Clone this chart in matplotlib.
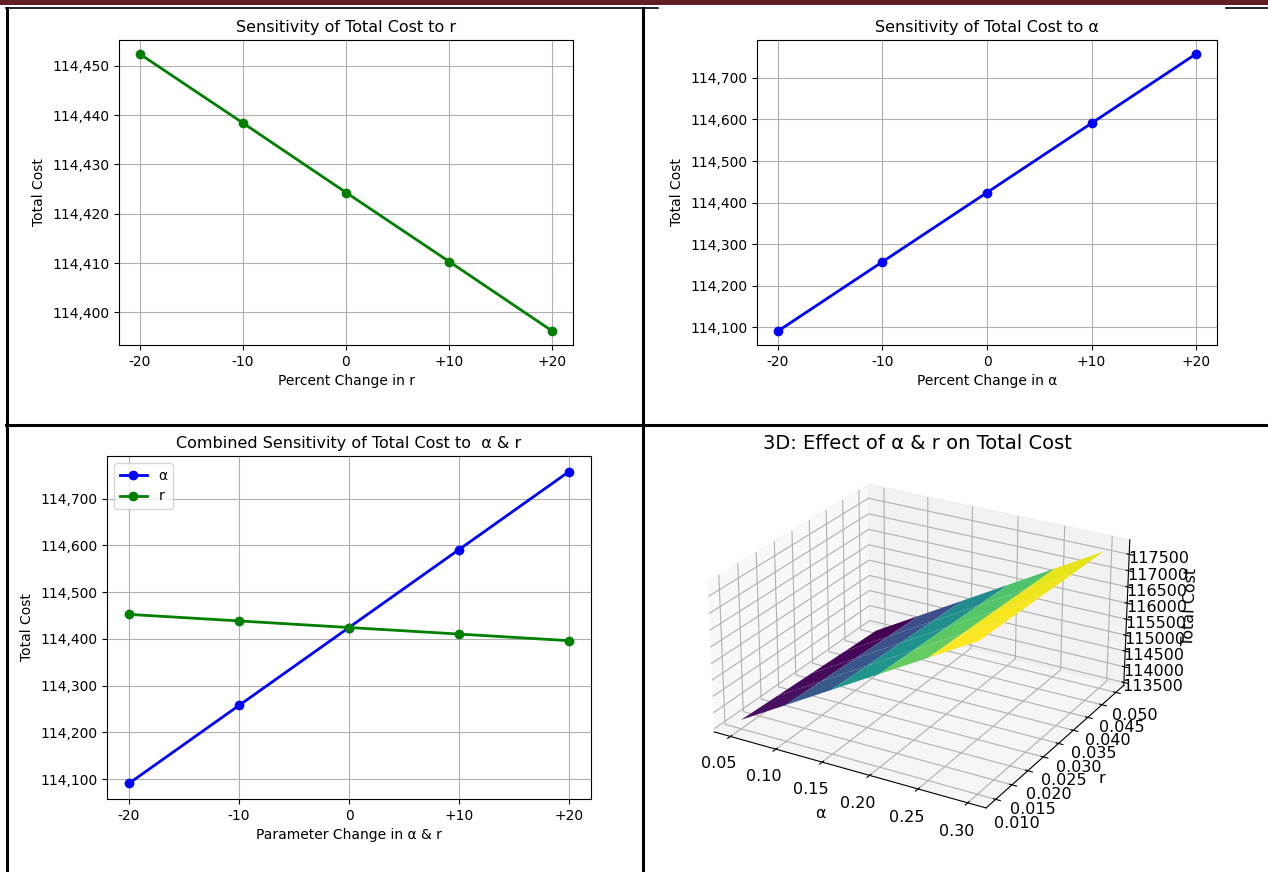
import matplotlib
matplotlib.use("Agg")
import matplotlib.pyplot as plt
import numpy as np
from matplotlib.ticker import FuncFormatter
from matplotlib.lines import Line2D
from matplotlib.patches import Rectangle

# Données
pct = [-20, -10, 0, 10, 20]
pct_labels = ['-20', '-10', '0', '+10', '+20']
cost_r = [114452.4, 114438.4, 114424.3, 114410.3, 114396.2]
cost_alpha = [114091.0, 114257.7, 114424.3, 114591.0, 114757.7]

# Surface 3D : coût total selon alpha (colonnes) et r (lignes)
alpha_grid = [0.05, 0.10, 0.15, 0.20, 0.25, 0.30]
r_grid = [0.01, 0.02, 0.03, 0.04, 0.05]
cost_grid = [
    [113684, 114517, 115350, 116183, 117016, 117849],
    [113638, 114471, 115304, 116137, 116970, 117803],
    [113591, 114424, 115257, 116090, 116923, 117756],
    [113544, 114377, 115210, 116043, 116876, 117709],
    [113498, 114331, 115164, 115997, 116830, 117663],
]
z_ticks = [113500, 114000, 114500, 115000, 115500, 116000, 116500, 117000, 117500]
r_ticks = [0.010, 0.015, 0.020, 0.025, 0.030, 0.035, 0.040, 0.045, 0.050]

W, H = 1268, 872
def rect(l, t, r, b):
    return [l / W, 1 - b / H, (r - l) / W, (b - t) / H]

fmt = FuncFormatter(lambda v, p: f'{v:,.0f}')

fig = plt.figure(figsize=(W / 100, H / 100), dpi=100)

# cadre du tableau (capture de document)
def hline(y, x0, x1, lw=2.0, c='black'):
    fig.add_artist(Line2D([x0 / W, x1 / W], [1 - y / H, 1 - y / H], color=c, lw=lw, transform=fig.transFigure))
def vline(x, y0, y1, lw=2.0, c='black'):
    fig.add_artist(Line2D([x / W, x / W], [1 - y0 / H, 1 - y1 / H], color=c, lw=lw, transform=fig.transFigure))

fig.add_artist(Rectangle((0, 1 - 5.5 / H), 1, 5.5 / H, color='#621f24', transform=fig.transFigure, lw=0))
hline(8, 6, 658, lw=1.2)
hline(8, 1226, 1268, lw=1.2)
vline(7, 8, 872, lw=2.2)
vline(643, 8, 872, lw=2.2)
hline(425, 6, 1268, lw=2.2)

# Sensibilité à r
ax1 = fig.add_axes(rect(119, 40, 573, 345))
ax1.plot(pct, cost_r, 'g-o', lw=2)
ax1.set_title('Sensitivity of Total Cost to r', fontsize=11.5)
ax1.set_xlabel('Percent Change in r', fontsize=10)
ax1.set_ylabel('Total Cost', fontsize=10)
ax1.set_xticks(pct)
ax1.set_xticklabels(pct_labels)
ax1.yaxis.set_major_formatter(fmt)
ax1.tick_params(labelsize=10)
ax1.grid(True)

# Sensibilité à alpha
ax2 = fig.add_axes(rect(757, 40, 1217, 345))
ax2.plot(pct, cost_alpha, 'b-o', lw=2)
ax2.set_title('Sensitivity of Total Cost to α', fontsize=11.5)
ax2.set_xlabel('Percent Change in α', fontsize=10)
ax2.set_ylabel('Total Cost', fontsize=10)
ax2.set_xticks(pct)
ax2.set_xticklabels(pct_labels)
ax2.yaxis.set_major_formatter(fmt)
ax2.tick_params(labelsize=10)
ax2.grid(True)

# Sensibilité combinée
ax3 = fig.add_axes(rect(107, 456, 591, 799))
ax3.plot(pct, cost_alpha, 'b-o', lw=2, label='α')
ax3.plot(pct, cost_r, 'g-o', lw=2, label='r')
ax3.set_title('Combined Sensitivity of Total Cost to  α & r', fontsize=11.5)
ax3.set_xlabel('Parameter Change in α & r', fontsize=10)
ax3.set_ylabel('Total Cost', fontsize=10)
ax3.set_xticks(pct)
ax3.set_xticklabels(pct_labels)
ax3.yaxis.set_major_formatter(fmt)
ax3.tick_params(labelsize=10)
ax3.grid(True)
ax3.legend(loc='upper left', fontsize=10)

# Surface 3D
A, R = np.meshgrid(alpha_grid, r_grid)
Z = np.array(cost_grid, dtype=float)
ax4 = fig.add_axes(rect(640, 431, 1195, 851), projection='3d')
ax4.view_init(elev=25, azim=-60)
ax4.set_box_aspect((3.3, 3.2, 1.75), zoom=1.06)
ax4.plot_surface(A, R, Z, cmap='viridis')
ax4.set_title('3D: Effect of α & r on Total Cost', fontsize=14, y=1.018)
ax4.set_xlabel('α', fontsize=11.5)
ax4.set_ylabel('r', fontsize=11.5)
ax4.set_zlabel('Total Cost', fontsize=11.5)
ax4.set_yticks(r_ticks)
ax4.set_zticks(z_ticks)
ax4.yaxis.set_major_formatter(FuncFormatter(lambda v, p: f'{v:.3f}'))
ax4.tick_params(labelsize=11.5)

plt.savefig('out.png', dpi=100)
